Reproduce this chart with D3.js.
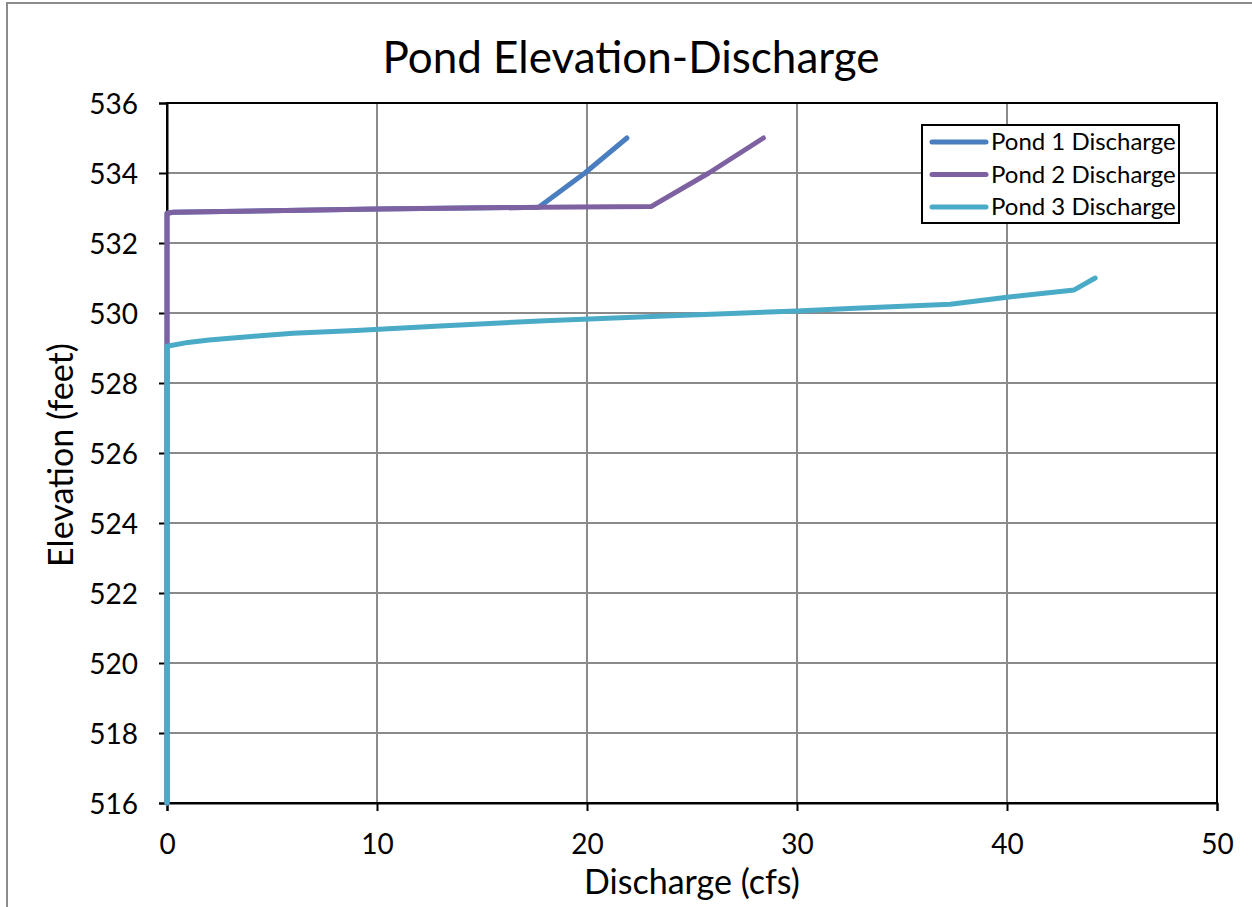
<!DOCTYPE html>
<html>
<head>
<meta charset="utf-8">
<script src="https://cdn.jsdelivr.net/npm/d3@7/dist/d3.min.js"></script>
<style>
  html, body { margin: 0; padding: 0; background: #fff; }
  svg { display: block; font-family: "Lato", "Open Sans", sans-serif; }
</style>
</head>
<body>
<svg id="chart" width="1252" height="907"></svg>
<script>
// Elevation-discharge rating data (discharge in cfs, elevation in feet)
const pond1Discharge = [0, 0, 0.3, 10, 17.7, 19.9, 21.9];
const pond1Elevation = [516, 532.85, 532.88, 532.97, 533.02, 534.0, 535.0];

const pond2Discharge = [0, 0, 0.3, 10, 17.7, 23.05, 25.8, 28.4];
const pond2Elevation = [516, 532.85, 532.88, 532.97, 533.02, 533.04, 534.0, 535.0];

const pond3Discharge = [0, 0, 1, 2, 4, 6, 9, 13, 18, 24, 30, 32.5, 37.3, 40, 43.2, 44.2];
const pond3Elevation = [516, 529.05, 529.16, 529.23, 529.33, 529.42, 529.5, 529.63, 529.78, 529.92, 530.06, 530.13, 530.25, 530.45, 530.66, 531.0];

const seriesNames = ["Pond 1 Discharge", "Pond 2 Discharge", "Pond 3 Discharge"];
const seriesColors = ["#4a7ebe", "#7e61a1", "#4aabc6"];

const xTicks = [0, 10, 20, 30, 40, 50];
const yTicks = [516, 518, 520, 522, 524, 526, 528, 530, 532, 534, 536];

const series = [
  { name: seriesNames[0], color: seriesColors[0], x: pond1Discharge, y: pond1Elevation },
  { name: seriesNames[1], color: seriesColors[1], x: pond2Discharge, y: pond2Elevation },
  { name: seriesNames[2], color: seriesColors[2], x: pond3Discharge, y: pond3Elevation }
];

const svg = d3.select("#chart");
const plot = { left: 167, right: 1217, top: 103, bottom: 803 };

const x = d3.scaleLinear().domain([0, 50]).range([plot.left, plot.right]);
const y = d3.scaleLinear().domain([516, 536]).range([plot.bottom, plot.top]);

// Outer chart frame
svg.append("rect")
  .attr("x", 7).attr("y", 3).attr("width", 1300).attr("height", 1000)
  .attr("fill", "none").attr("stroke", "#8c8c8c").attr("stroke-width", 2);

// Gridlines
const grid = svg.append("g");
grid.selectAll("line.gx").data(xTicks.slice(1, -1)).join("line")
  .attr("x1", d => x(d)).attr("x2", d => x(d))
  .attr("y1", plot.top).attr("y2", plot.bottom)
  .attr("stroke", "#8a8a8a").attr("stroke-width", 2);
grid.selectAll("line.gy").data(yTicks.slice(1, -1)).join("line")
  .attr("x1", plot.left).attr("x2", plot.right)
  .attr("y1", d => y(d)).attr("y2", d => y(d))
  .attr("stroke", "#8a8a8a").attr("stroke-width", 2);

// Plot area border
svg.append("rect")
  .attr("x", plot.left).attr("y", plot.top)
  .attr("width", plot.right - plot.left).attr("height", plot.bottom - plot.top)
  .attr("fill", "none").attr("stroke", "#000").attr("stroke-width", 2);

// Axes
const xAxis = svg.append("g")
  .attr("transform", `translate(0,${plot.bottom})`)
  .call(d3.axisBottom(x).tickValues(xTicks).tickSize(8).tickPadding(23).tickFormat(d3.format("d")));
const yAxis = svg.append("g")
  .attr("transform", `translate(${plot.left},0)`)
  .call(d3.axisLeft(y).tickValues(yTicks).tickSize(8).tickPadding(21).tickFormat(d3.format("d")));

[xAxis, yAxis].forEach(a => {
  a.select(".domain").attr("stroke", "#000").attr("stroke-width", 2);
  a.selectAll(".tick line").attr("stroke", "#000").attr("stroke-width", 2);
  a.selectAll(".tick text")
    .attr("fill", "#000")
    .style("font-family", "Lato, 'Open Sans', sans-serif")
    .style("font-size", "28px");
});
yAxis.selectAll(".tick text").attr("dy", "0.36em");

// Series lines
const line = d3.line().x(d => x(d[0])).y(d => y(d[1]));
svg.append("g").selectAll("path").data(series).join("path")
  .attr("d", s => line(s.x.map((v, i) => [v, s.y[i]])))
  .attr("fill", "none")
  .attr("stroke", s => s.color)
  .attr("stroke-width", 5)
  .attr("stroke-linecap", "round")
  .attr("stroke-linejoin", "round");

// Title
svg.append("text")
  .attr("x", 631).attr("y", 73)
  .attr("text-anchor", "middle")
  .style("font-size", "44px")
  .attr("fill", "#000")
  .text("Pond Elevation-Discharge");

// Axis titles
svg.append("text")
  .attr("x", (plot.left + plot.right) / 2).attr("y", 894)
  .attr("text-anchor", "middle")
  .style("font-size", "34px")
  .attr("fill", "#000")
  .text("Discharge (cfs)");

svg.append("text")
  .attr("transform", `translate(73,${(plot.top + plot.bottom) / 2 + 2}) rotate(-90)`)
  .attr("text-anchor", "middle")
  .style("font-size", "34px")
  .attr("fill", "#000")
  .text("Elevation (feet)");

// Legend
const legend = svg.append("g").attr("transform", "translate(922,125)");
legend.append("rect")
  .attr("x", 0).attr("y", 0).attr("width", 257).attr("height", 98)
  .attr("fill", "#fff").attr("stroke", "#000").attr("stroke-width", 2);
const items = legend.selectAll("g.item").data(series).join("g")
  .attr("transform", (d, i) => `translate(0,${17 + i * 32.5})`);
items.append("line")
  .attr("x1", 10).attr("x2", 64).attr("y1", 0).attr("y2", 0)
  .attr("stroke", d => d.color).attr("stroke-width", 5).attr("stroke-linecap", "round");
items.append("text")
  .attr("x", 69).attr("y", 0).attr("dy", "0.35em")
  .style("font-size", "24px")
  .attr("fill", "#000")
  .text(d => d.name);
</script>
</body>
</html>
